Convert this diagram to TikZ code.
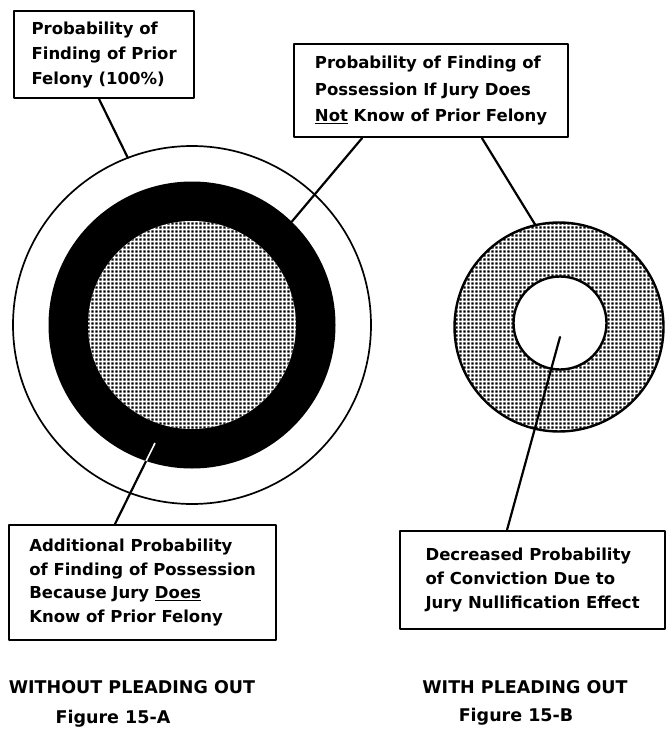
\documentclass[tikz,border=0pt]{standalone}
\usepackage{fontspec}
\setmainfont{DejaVu Sans}
\usetikzlibrary{calc,patterns.meta}
\tikzdeclarepattern{
  name=screendots,
  type=uncolored,
  bottom left={(0pt,0pt)},
  top right={(3.5pt,3.5pt)},
  tile size={(3.5pt,3.5pt)},
  code={\fill (0.45pt,0.45pt) rectangle (3.05pt,3.05pt);}
}
\newcommand\lblfont[1]{\bfseries\fontsize{16.5pt}{#1pt}\selectfont}
\tikzset{
  box/.style={draw, line width=2.2pt, fill=white, align=left, inner sep=0pt, anchor=north west},
  lead/.style={line width=2.2pt, line cap=round},
  captext/.style={font=\bfseries\fontsize{17.5pt}{20pt}\selectfont, inner sep=0pt},
  screenfill/.style={fill=white, postaction={pattern=screendots, pattern color=black}},
  disc/.style={circle, inner sep=0pt, outer sep=0pt}
}
\begin{document}
\begin{tikzpicture}[x=1pt, y=-1pt, line join=round]
\useasboundingbox (0,0) rectangle (666,730);
\fill[white] (0,0) rectangle (666,730);

% left figure
\node[disc, fill=white, draw, line width=1.7pt, minimum size=358pt] (outerL) at (192,325) {};
\node[disc, fill=black, minimum size=287pt] (ringL) at (192,325) {};
\node[disc, screenfill, minimum size=208pt] (coreL) at (192,325) {};

% right figure
\node[disc, screenfill, draw, line width=2.4pt, minimum size=209pt] (outerR) at (559,327) {};
\node[disc, fill=white, draw, line width=2.4pt, minimum size=93pt] (innerR) at (560,323) {};

% boxes
\node[box, minimum width=180pt, minimum height=87pt, font=\lblfont{25}] (A) at (13,10)
  {Probability of\\Finding of Prior\\Felony (100\%)};
\node[box, minimum width=274pt, minimum height=93pt, font=\lblfont{26.5}] (B) at (293,43)
  {Probability of Finding of\\Possession If Jury Does\\\underline{Not} Know of Prior Felony};
\node[box, minimum width=267pt, minimum height=115pt, font=\lblfont{23.5}] (C) at (8,524)
  {Additional Probability\\of Finding of Possession\\Because Jury \underline{Does}\\Know of Prior Felony};
\node[box, minimum width=265pt, minimum height=98pt, font=\lblfont{24}] (D) at (399,530)
  {Decreased Probability\\of Conviction Due to\\Jury Nullification Effect};

% leaders
\coordinate (endC) at (155,443);
\coordinate (endD) at (560,337);
\draw[lead] ([xshift=-5pt]A.south) -- (outerL.111);
\draw[lead] ($(B.south west)+(69,0)$) -- (ringL.46);
\draw[lead] ($(B.south west)+(189,0)$) -- (outerR.103);
\draw[lead] ($(C.north west)+(107,0)$) -- (endC);
\begin{scope}
  \clip (192,325) circle[radius=143.5pt];
  \draw[line width=1.6pt, white] ($(C.north west)+(107,0)$) -- (endC);
\end{scope}
\draw[lead] ($(D.north west)+(108,0)$) -- (endD);

% captions
\node[captext] (capA) at (132,687) {WITHOUT PLEADING OUT};
\node[captext] (figA) at (113,719) {Figure 15-A};
\node[captext] (capB) at (525,687) {WITH PLEADING OUT};
\node[captext] (figB) at (516,717) {Figure 15-B};
\end{tikzpicture}
\end{document}
